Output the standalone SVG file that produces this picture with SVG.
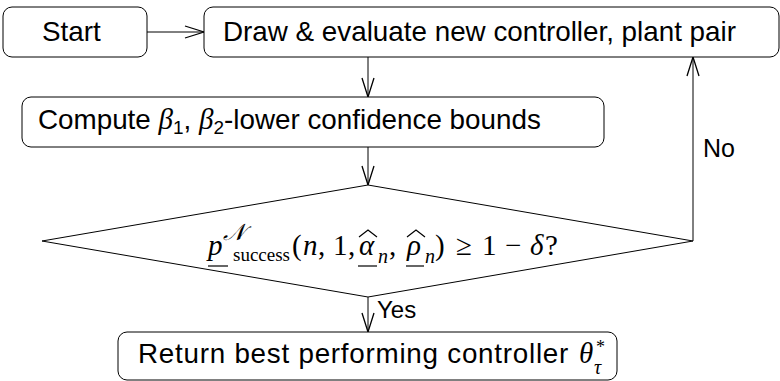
<svg xmlns="http://www.w3.org/2000/svg" width="780" height="381" viewBox="0 0 780 381">
<defs>
<style>
.box{fill:#fff;stroke:#000;stroke-width:1}
.t{font-family:"Liberation Sans",Arial,sans-serif;font-size:27.8px;fill:#000}
.lbl{font-family:"Liberation Sans",Arial,sans-serif;font-size:24px;fill:#000}
.m{font-family:"Liberation Serif","DejaVu Serif",serif;font-size:29px;fill:#000}
.i{font-style:italic}
.c{fill:none;stroke:#000;stroke-width:1}
.ul{stroke:#000;stroke-width:1.2;fill:none}
</style>
<marker id="arr" viewBox="-20 -8 22 16" refX="0" refY="0" markerWidth="22" markerHeight="16" markerUnits="userSpaceOnUse" orient="auto">
<path d="M-19,-6 L0,0 L-19,6" fill="none" stroke="#000" stroke-width="1.3"/>
</marker>
</defs>
<g id="connectors">
<path class="c" d="M147,32 H204" marker-end="url(#arr)"/>
<path class="c" d="M368,57 V97" marker-end="url(#arr)"/>
<path class="c" d="M368,147 V185" marker-end="url(#arr)"/>
<path class="c" d="M368,297 V332" marker-end="url(#arr)"/>
<path class="c" d="M693,241 V57" marker-end="url(#arr)"/>
<text class="lbl" x="377" y="318">Yes</text>
<text class="lbl" x="703" y="157" style="font-size:25px">No</text>
</g>
<g id="start">
<rect class="box" x="3" y="7" width="144" height="50" rx="9"/>
<text class="t" x="42" y="41">Start</text>
</g>
<g id="draw">
<rect class="box" x="204" y="7" width="575" height="50" rx="9"/>
<text class="t" x="223" y="41">Draw &amp; evaluate new controller, plant pair</text>
</g>
<g id="compute">
<rect class="box" x="22" y="97" width="582" height="50" rx="9"/>
<text class="t" x="38" y="129">Compute <tspan class="m i">β</tspan><tspan style="font-size:19px" dy="5">1</tspan><tspan dy="-5">, </tspan><tspan class="m i">β</tspan><tspan style="font-size:19px" dy="5">2</tspan><tspan dy="-5">-lower confidence bounds</tspan></text>
</g>
<g id="decision">
<polygon class="box" points="42,241 368,185 693,241 368,297"/>
<text class="m" y="255"><tspan x="208" class="i">p</tspan><tspan x="223" y="240" class="i" style="font-size:23px">𝒩</tspan><tspan x="233" y="261" style="font-size:19px">success</tspan><tspan x="292" y="255">(</tspan><tspan x="303" class="i">n</tspan><tspan x="318">,</tspan><tspan x="333">1</tspan><tspan x="348">,</tspan><tspan x="359" class="i">α</tspan><tspan x="378" y="263" class="i" style="font-size:20px">n</tspan><tspan x="389" y="255">,</tspan><tspan x="407" class="i">ρ</tspan><tspan x="425" y="263" class="i" style="font-size:20px">n</tspan><tspan x="435" y="255">)</tspan><tspan x="456">≥</tspan><tspan x="482">1</tspan><tspan x="505">−</tspan><tspan x="530" class="i">δ</tspan><tspan x="545">?</tspan></text>
<line class="ul" x1="208" y1="266" x2="228" y2="266"/>
<line class="ul" x1="358" y1="266" x2="377" y2="266"/>
<line class="ul" x1="406" y1="266" x2="424" y2="266"/>
<polyline class="ul" points="359,237 368,230 377,237"/>
<polyline class="ul" points="407,237 416,230 425,237"/>
</g>
<g id="return">
<rect class="box" x="118" y="332" width="499" height="48" rx="9"/>
<text class="t" x="138" y="363" letter-spacing="0.75">Return best performing controller</text>
<text class="m i" x="579" y="363">θ</text>
<text class="m" x="596" y="353" style="font-size:18px">*</text>
<text class="m i" x="594" y="374" style="font-size:20px">τ</text>
</g>
</svg>
